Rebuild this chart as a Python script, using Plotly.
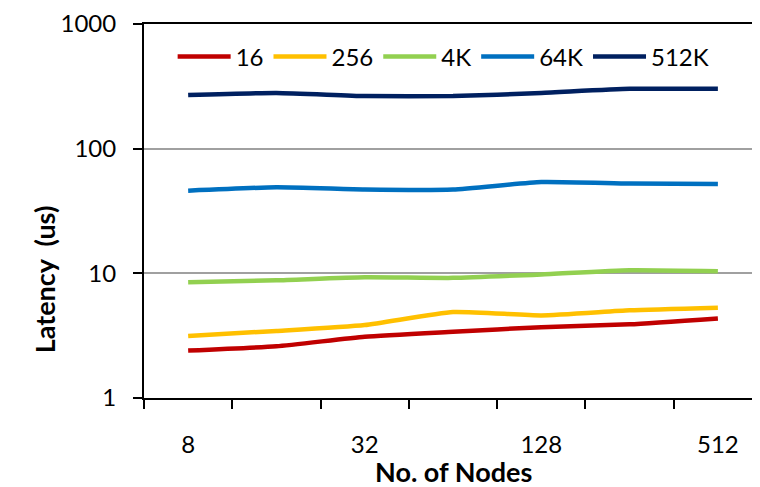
import plotly.graph_objects as go

nodes = ["8", "16", "32", "64", "128", "256", "512"]
tick_text = ["8", "", "32", "", "128", "", "512"]

series_names = ["16", "256", "4K", "64K", "512K"]
lat_16 = [2.4, 2.6, 3.1, 3.4, 3.7, 3.9, 4.35]
lat_256 = [3.15, 3.45, 3.85, 4.9, 4.6, 5.05, 5.3]
lat_4k = [8.5, 8.8, 9.3, 9.2, 9.8, 10.6, 10.4]
lat_64k = [46, 49, 47, 47, 54, 52.5, 52]
lat_512k = [269, 280, 264, 264, 280, 302, 302]
colors = ["#C00000", "#FFC000", "#92D050", "#0070C0", "#002060"]

FONT = "Lato"

fig = go.Figure()
for name, vals, col in zip(series_names, [lat_16, lat_256, lat_4k, lat_64k, lat_512k], colors):
    fig.add_trace(go.Scatter(x=nodes, y=vals, name=name, mode="lines",
                             line=dict(color=col, width=4.5, shape="spline",
                                       smoothing=0.5)))

# the page body has an 8px margin, so the figure is sized/margined to compensate
fig.update_layout(
    width=752, height=479,
    margin=dict(l=136, r=0, t=13, b=89),
    paper_bgcolor="white", plot_bgcolor="white",
    font=dict(family=FONT, size=24, color="black"),
    showlegend=True,
    legend=dict(orientation="h", x=0.0465, y=0.912, xanchor="left", yanchor="middle",
                font=dict(size=24, family=FONT), itemwidth=53, tracegroupgap=0,
                bgcolor="rgba(0,0,0,0)"),
    xaxis=dict(type="category", tickvals=nodes, ticktext=tick_text,
               tickson="boundaries", ticks="outside", ticklen=9, tickwidth=1.5,
               tickcolor="black", showline=True, linecolor="black", linewidth=2,
               mirror=True, showgrid=False, range=[-0.5, 6.477],
               ticklabelstandoff=24, tickfont=dict(size=24),
               ticklabeloverflow="allow"),
    yaxis=dict(type="log", range=[0, 3], tickvals=[1, 10, 100, 1000],
               ticktext=["1", "10", "100", "1000"], ticks="outside", ticklen=9,
               tickwidth=1.5, tickcolor="black", showline=True, linecolor="black",
               linewidth=2, showgrid=True, gridcolor="#A0A0A0", gridwidth=1.5,
               zeroline=False, ticklabelstandoff=12, tickfont=dict(size=24),
               ticklabeloverflow="allow"),
    annotations=[
        dict(text="<b>Latency  (us)</b>", textangle=-90, xref="paper", yref="paper",
             x=-0.162, y=0.318, xanchor="center", yanchor="middle", showarrow=False,
             font=dict(size=27, family=FONT)),
        dict(text="<b>No. of Nodes</b>", xref="paper", yref="paper",
             x=0.502, y=-0.196, xanchor="center", yanchor="middle", showarrow=False,
             font=dict(size=27, family=FONT)),
    ],
)

fig.write_html("out.html")
